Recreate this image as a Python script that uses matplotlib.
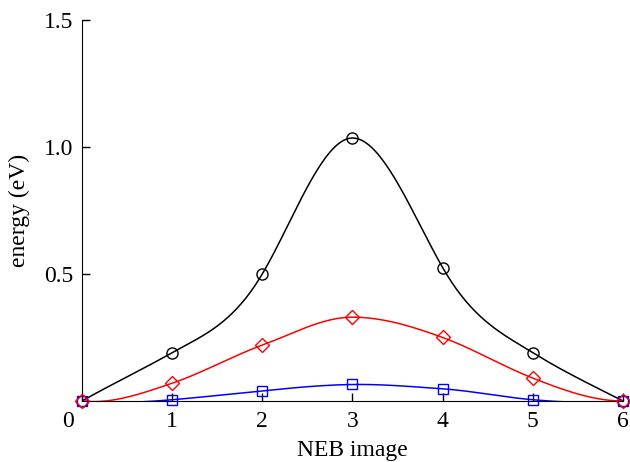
import numpy as np
import matplotlib.pyplot as plt
import matplotlib.transforms as mtransforms

plt.rcParams['font.family'] = ['Liberation Serif', 'DejaVu Serif']

images = [0, 1, 2, 3, 4, 5, 6]

# energies (eV)
black_e = [0.0, 0.19, 0.50, 1.035, 0.525, 0.19, 0.0]
red_e = [0.0, 0.07, 0.22, 0.33, 0.25, 0.09, 0.0]
blue_e = [0.0, 0.005, 0.04, 0.065, 0.048, 0.005, 0.0]

# tangent slopes (dE/dimage), estimated from the curve shapes
black_s = [0.2, 0.2, 0.6, 0.0, -0.62, -0.22, -0.18]
red_s = [-0.04, 0.12, 0.13, 0.0, -0.13, -0.14, 0.0]
blue_s = [-0.03, 0.03, 0.035, 0.005, -0.025, -0.03, 0.03]


def hermite(x, y, s, n=40):
    xs, ys = [], []
    for i in range(len(x) - 1):
        h = x[i + 1] - x[i]
        t = np.linspace(0, 1, n)
        h00 = 2 * t**3 - 3 * t**2 + 1
        h10 = t**3 - 2 * t**2 + t
        h01 = -2 * t**3 + 3 * t**2
        h11 = t**3 - t**2
        xs.append(x[i] + t * h)
        ys.append(h00 * y[i] + h10 * h * s[i] + h01 * y[i + 1] + h11 * h * s[i + 1])
    return np.concatenate(xs), np.concatenate(ys)


fig = plt.figure(figsize=(6.3, 4.62), dpi=100)
ax = fig.add_axes([0.130, 0.132, 0.859, 0.825])

# red drawn last so its diamonds sit on top at the end points
for e, s, col, mk, ms, z in [(black_e, black_s, 'black', 'o', 8, 3),
                             (blue_e, blue_s, 'blue', 's', 6.5, 4),
                             (red_e, red_s, 'red', 'D', 7, 5)]:
    cx, cy = hermite(images, e, s)
    ax.plot(cx, cy, color=col, lw=1.1)
    ax.plot(images, e, linestyle='none', marker=mk, ms=ms, mfc='none',
            mec=col, mew=1.0, clip_on=False, zorder=z)

ax.set_xlim(0, 6)
ax.set_ylim(0, 1.5)
ax.set_xticks(images)
ax.set_yticks([0.5, 1.0, 1.5])
ax.set_yticklabels(['0.5', '1.0', '1.5'])
ax.tick_params(direction='in', length=6, width=1, labelsize=17, pad=7)
ax.tick_params(axis='y', pad=6)
ax.spines['top'].set_visible(False)
ax.spines['right'].set_visible(False)

# the "0" label sits a little left of the axis corner
lbl0 = ax.get_xticklabels()[0]
lbl0.set_transform(lbl0.get_transform() +
                   mtransforms.ScaledTranslation(-0.14, 0, fig.dpi_scale_trans))

ax.set_xlabel('NEB image', fontsize=17, labelpad=6)
ax.set_ylabel('energy (eV)', fontsize=17, labelpad=10)

fig.savefig('out.png', dpi=100)
